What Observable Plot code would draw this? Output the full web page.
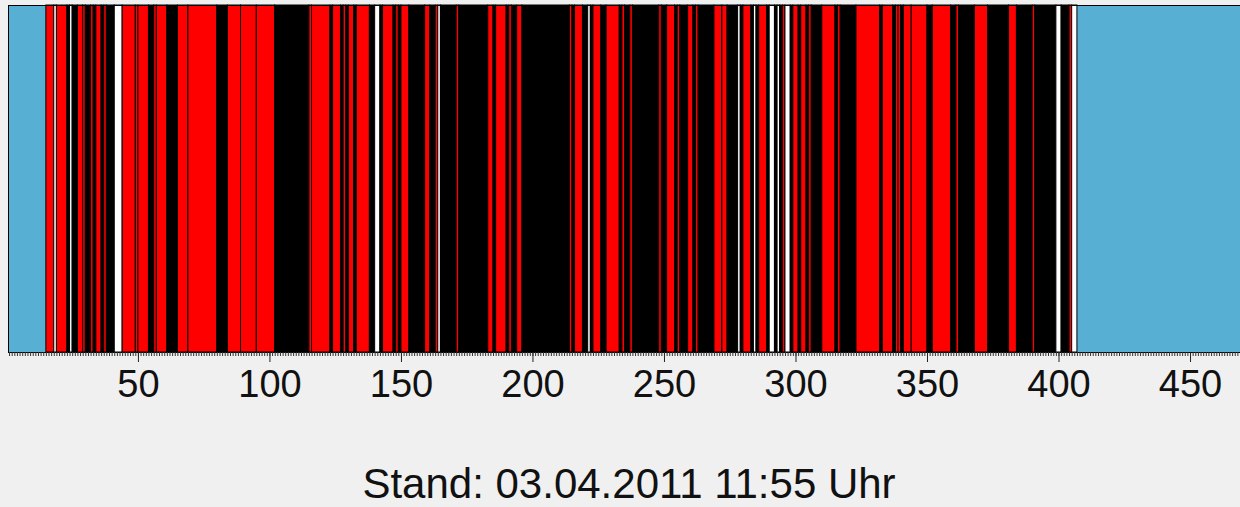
<!DOCTYPE html>
<html><head><meta charset="utf-8">
<script src="https://cdn.jsdelivr.net/npm/d3@7"></script>
<script src="https://cdn.jsdelivr.net/npm/@observablehq/plot@0.6"></script>
<style>
html,body{margin:0;padding:0;background:#f0f0f0;width:1240px;height:507px;overflow:hidden;}
#chart{position:absolute;left:0;top:0;}
#caption{position:absolute;left:13px;width:1232px;top:463px;text-align:center;font:42px/42px "Liberation Sans",Arial,sans-serif;color:#111;}
</style></head><body>
<div id="chart"></div>
<div id="caption">Stand: 03.04.2011 11:55 Uhr</div>
<script>
// first occupied position on the axis
const firstSeat = 15;
// consecutive runs, read left to right
const runParty = [
 "rot","weiß","rot","schwarz","weiß","schwarz","rot","rot","schwarz","rot",
 "schwarz","rot","schwarz","rot","schwarz","weiß","rot","rot","rot","schwarz",
 "rot","rot","schwarz","rot","rot","schwarz","rot","rot","rot","schwarz",
 "rot","rot","schwarz","rot","schwarz","rot","schwarz","rot","schwarz","rot",
 "schwarz","weiß","schwarz","rot","schwarz","rot","schwarz","rot","schwarz","rot",
 "schwarz","rot","weiß","schwarz","rot","schwarz","rot","schwarz","rot","schwarz",
 "rot","schwarz","rot","schwarz","rot","schwarz","rot","schwarz","weiß","schwarz",
 "rot","schwarz","rot","schwarz","rot","schwarz","rot","schwarz","rot","schwarz",
 "rot","schwarz","rot","schwarz","rot","schwarz","rot","schwarz","rot","rot",
 "schwarz","weiß","schwarz","rot","schwarz","weiß","schwarz","rot","schwarz","weiß",
 "schwarz","weiß","schwarz","rot","weiß","schwarz","rot","schwarz","rot","schwarz",
 "rot","schwarz","rot","schwarz","rot","schwarz","rot","schwarz","rot","schwarz",
 "rot","rot","schwarz","rot","rot","schwarz","rot","schwarz","rot","schwarz",
 "rot","schwarz","rot","schwarz","rot","schwarz","weiß","schwarz","rot","weiß"
];
const runLength = [
 3,1,4,1,1,2,2,1,2,1,
 1,2,1,1,3,3,5,1,4,2,
 1,4,4,4,11,4,5,6,7,13,
 1,7,1,3,1,1,1,2,1,5,
 2,2,1,4,1,1,1,3,6,2,
 2,1,1,6,1,11,2,1,4,1,
 1,2,2,18,1,1,3,2,1,1,
 3,2,5,1,1,2,1,10,1,2,
 3,1,1,3,2,1,1,6,3,2,
 4,1,1,3,1,1,1,3,1,2,
 1,1,1,1,2,1,2,1,2,1,
 1,4,5,1,1,6,9,1,4,1,
 1,1,1,3,6,2,7,2,1,6,
 5,8,3,6,1,8,2,3,1,2
];
const tickValues = [50,100,150,200,250,300,350,400,450];
const xDomain = [0.6, 469];
const caption = "Stand: 03.04.2011 11:55 Uhr";

const segments = [];
let pos = firstSeat;
runParty.forEach((p, i) => {
  segments.push({party: p, start: pos, end: pos + runLength[i]});
  pos += runLength[i];
});
const minorTicks = d3.range(1, 470);

const chart = Plot.plot({
  width: 1240, height: 410,
  marginTop: 5, marginLeft: 8, marginRight: 0, marginBottom: 58,
  style: {background: "transparent", fontFamily: "Liberation Sans, Arial, sans-serif", color: "#111", overflow: "visible"},
  x: {domain: xDomain, axis: null},
  color: {domain: ["rot", "schwarz", "weiß"], range: ["#ff0000", "#000000", "#ffffff"]},
  marks: [
    Plot.frame({fill: "#58afd4"}),
    Plot.rect(segments, {x1: "start", x2: "end", fill: "party", stroke: "#000", strokeWidth: 1}),
    Plot.frame({stroke: "#000"}),
    Plot.axisX(minorTicks, {tickSize: 4, tickFormat: () => "", stroke: "#333"}),
    Plot.axisX(tickValues, {tickSize: 10, tickPadding: 8, fontSize: 38, stroke: "#222", tickFormat: d => String(d)})
  ]
});
document.getElementById("chart").appendChild(chart);
document.getElementById("caption").textContent = caption;
</script>
</body></html>
